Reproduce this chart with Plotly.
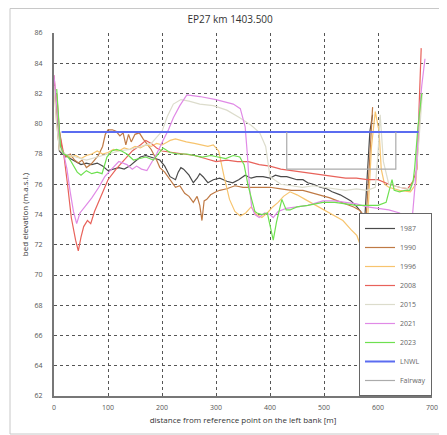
import plotly.graph_objects as go

# cross section EP27 km 1403.500, bed elevation per survey year
x_1987 = [0, 3, 6, 10, 15, 22, 30, 40, 50, 60, 70, 80, 90, 100, 110, 120, 130, 140, 150, 160,
          170, 180, 190, 196, 205, 215, 225, 230, 235, 240, 250, 258, 265, 270, 276, 285, 295, 307,
          320, 331, 342, 354, 365, 375, 387, 400, 410, 420, 431, 440, 450, 461, 470, 480, 493, 505,
          515, 530, 540, 550, 561, 568, 572, 576, 580, 585, 590]
y_1987 = [82.8, 81.5, 79.8, 78.2, 78.0, 77.9, 77.7, 77.5, 77.3, 77.4, 77.3, 77.4, 77.2, 76.9, 77.0,
          77.1, 77.0, 77.2, 77.5, 77.8, 77.9, 77.8, 77.7, 77.6, 77.2, 76.5, 76.3, 76.8, 77.1, 77.0,
          76.6, 76.1, 76.4, 76.7, 76.5, 76.1, 76.3, 76.4, 76.2, 76.1, 76.3, 76.6, 76.4, 76.5, 76.5,
          76.4, 76.6, 76.5, 76.5, 76.4, 76.3, 76.3, 76.1, 76.0, 75.8, 75.7, 75.5, 75.3, 75.1, 74.9,
          74.5, 74.2, 73.6, 74.0, 76.5, 79.5, 80.6]

x_1990 = [5, 10, 15, 22, 30, 38, 45, 52, 60, 68, 75, 82, 90, 95, 100, 108, 115, 122, 128, 133, 138,
          143, 150, 158, 165, 172, 180, 190, 196, 205, 215, 225, 233, 242, 250, 258, 265, 270, 274,
          278, 283, 290, 300, 307, 320, 335, 350, 365, 380, 400, 420, 440, 461, 480, 500, 511, 525,
          540, 555, 565, 572, 578, 582, 586, 590]
y_1990 = [82.0, 79.5, 78.3, 77.8, 78.0, 77.6, 77.4, 77.6, 77.1, 77.3, 77.6, 77.9, 78.5, 79.3, 79.6,
          79.6, 79.5, 79.2, 79.4, 78.6, 79.3, 78.8, 79.3, 79.4, 79.0, 78.7, 78.3, 77.6, 77.1, 76.8,
          76.3, 75.8, 75.9, 75.4, 75.2, 74.8, 75.2, 74.6, 73.6, 74.9, 75.0, 75.3, 75.5, 75.6, 75.7,
          75.9, 75.8, 75.8, 75.8, 75.8, 75.7, 75.6, 75.6, 75.4, 75.2, 75.1, 74.9, 74.7, 74.5, 74.3,
          74.0, 73.8, 76.0, 79.0, 81.1]

x_1996 = [0, 5, 10, 20, 30, 40, 50, 60, 70, 80, 90, 100, 110, 120, 130, 140, 150, 160, 170, 180,
          190, 200, 210, 215, 225, 233, 245, 260, 270, 285, 295, 305, 315, 325, 335, 345, 355, 365,
          375, 385, 395, 405, 415, 425, 437, 450, 465, 480, 500, 515, 535, 550, 561, 567, 573, 578,
          582, 588, 595, 602, 606, 612, 620, 640, 660, 670, 675, 680]
y_1996 = [82.5, 80.0, 78.3, 78.0, 77.8, 77.9, 77.7, 77.9, 78.0, 78.2, 78.0, 78.1, 78.3, 78.2, 78.4,
          78.3, 78.5, 78.4, 78.6, 78.5, 78.7, 78.6, 78.8, 78.9, 79.0, 78.9, 78.8, 78.7, 78.6, 78.5,
          78.6, 78.2, 76.5, 75.0, 74.2, 73.9, 74.1, 74.5, 74.0, 73.8, 74.1, 74.5, 74.8, 75.2, 75.5,
          75.3, 75.0, 74.7, 74.3, 74.0, 73.6, 73.0, 72.6, 72.0, 71.1, 71.8, 74.5, 78.5, 80.8, 79.5,
          77.0, 76.0, 75.8, 75.6, 75.5, 76.0, 79.0, 82.0]

x_2008 = [0, 5, 10, 18, 25, 32, 40, 45, 50, 55, 62, 68, 75, 85, 100, 115, 130, 145, 160, 170, 180,
          190, 200, 220, 240, 260, 280, 300, 320, 340, 360, 380, 400, 420, 440, 460, 480, 500, 520,
          540, 560, 580, 600, 620, 640, 655, 665, 672, 676, 680]
y_2008 = [83.2, 81.0, 79.5, 78.0, 76.0, 73.8, 72.3, 71.6, 72.5, 73.2, 73.6, 73.4, 74.2, 75.0, 76.3,
          77.0, 77.6, 78.2, 78.6, 78.9, 78.7, 78.4, 78.2, 78.1, 78.0, 77.9, 77.7, 77.5, 77.6, 77.5,
          77.5, 77.3, 77.2, 77.0, 76.9, 76.8, 76.7, 76.6, 76.5, 76.4, 76.4, 76.3, 76.3, 76.0, 75.8,
          75.7, 76.2, 77.0, 81.0, 85.0]

x_2015 = [0, 5, 10, 20, 40, 60, 80, 100, 120, 140, 160, 180, 200, 210, 221, 235, 250, 270, 295, 320,
          344, 365, 381, 392, 400, 420, 440, 460, 480, 500, 520, 540, 560, 580, 595, 600, 604, 610,
          620, 640, 660, 670, 676, 682]
y_2015 = [82.5, 80.0, 78.3, 78.0, 77.8, 77.6, 77.8, 78.0, 78.2, 78.3, 78.5, 78.7, 79.5, 80.5, 81.3,
          81.6, 81.5, 81.3, 81.2, 80.9, 80.4, 79.9, 79.4, 78.5, 76.5, 76.0, 75.9, 75.8, 75.9, 75.8,
          75.7, 75.6, 75.7, 75.6, 75.8, 78.0, 80.6, 77.5, 76.0, 75.8, 75.7, 76.5, 79.0, 82.0]

x_2021 = [0, 3, 7, 12, 18, 24, 30, 36, 42, 48, 57, 70, 83, 94, 104, 120, 135, 145, 153, 162, 172,
          182, 190, 202, 212, 221, 233, 246, 270, 300, 332, 345, 354, 358, 362, 366, 372, 380, 390,
          400, 406, 415, 430, 450, 470, 498, 520, 540, 560, 580, 600, 620, 640, 652, 659, 664, 670,
          676, 681, 687]
y_2021 = [83.2, 82.0, 80.0, 78.5, 78.0, 77.0, 75.5, 74.2, 73.4, 74.1, 74.5, 75.1, 75.8, 76.5, 76.9,
          77.5, 77.3, 77.0, 77.2, 77.0, 76.9, 77.5, 78.0, 78.9, 79.6, 80.4, 81.2, 81.9, 81.8, 81.6,
          81.3, 81.0, 79.8, 78.0, 75.8, 74.5, 74.0, 73.8, 74.1, 74.0, 73.8, 74.2, 74.4, 74.5, 74.6,
          74.9, 74.9, 74.8, 74.7, 74.5, 74.4, 74.3, 74.1, 73.8, 73.4, 74.0, 76.5, 80.5, 82.5, 84.3]

x_2023 = [5, 8, 12, 18, 24, 30, 36, 43, 50, 60, 70, 80, 89, 98, 107, 116, 125, 135, 147, 159, 170,
          184, 193, 202, 215, 230, 246, 260, 275, 290, 302, 318, 332, 344, 352, 359, 366, 372, 376,
          385, 395, 400, 406, 412, 422, 430, 437, 450, 470, 498, 520, 540, 560, 580, 600, 615, 622,
          626, 630, 640, 650, 659, 665, 668, 674, 681]
y_2023 = [82.3, 80.5, 78.5, 78.0, 77.9, 77.6, 77.2, 76.8, 76.6, 76.9, 76.7, 76.8, 76.7, 77.8, 78.2,
          78.3, 78.2, 78.0, 77.6, 77.7, 77.8, 77.6, 78.0, 78.4, 78.1, 78.0, 78.0, 77.9, 77.8, 77.9,
          77.8, 77.7, 77.9, 77.8, 77.3, 76.0, 75.0, 74.2, 74.1, 74.0, 74.1, 73.2, 72.3, 73.5, 75.0,
          74.3, 74.3, 74.5, 74.6, 74.8, 74.8, 74.7, 74.6, 74.6, 74.6, 74.8, 75.8, 76.3, 75.6, 75.5,
          75.6, 75.6, 76.2, 77.1, 79.8, 82.0]

x_lnwl = [14, 675]
y_lnwl = [79.45, 79.45]

x_fairway = [431, 431, 633, 633]
y_fairway = [79.45, 77.0, 77.0, 79.45]

series = [
    ("1987", x_1987, y_1987, "#4a4a4a", 1.2),
    ("1990", x_1990, y_1990, "#bf7a45", 1.2),
    ("1996", x_1996, y_1996, "#f7c46e", 1.2),
    ("2008", x_2008, y_2008, "#e8625a", 1.2),
    ("2015", x_2015, y_2015, "#dcdccc", 1.2),
    ("2021", x_2021, y_2021, "#e08ae6", 1.2),
    ("2023", x_2023, y_2023, "#6ee050", 1.2),
    ("LNWL", x_lnwl, y_lnwl, "#5b6cf0", 2),
    ("Fairway", x_fairway, y_fairway, "#ababab", 1.2),
]

fig = go.Figure()
for name, xs, ys, color, w in series:
    fig.add_trace(go.Scatter(x=xs, y=ys, mode="lines", name=name,
                             line=dict(color=color, width=w)))

font = "Open Sans, Liberation Sans, sans-serif"
# page body adds 8px margin, so the figure is sized 8px smaller each way
fig.update_layout(
    width=439, height=427,
    margin=dict(l=46, r=15, t=25, b=39),
    paper_bgcolor="white", plot_bgcolor="white",
    font=dict(family=font, size=8, color="#444"),
    title=dict(text="EP27 km 1403.500", x=0.506, xanchor="center", y=0.972, yanchor="middle",
               font=dict(size=10, color="#333")),
    showlegend=True,
    legend=dict(x=1, y=0, xanchor="right", yanchor="bottom", bgcolor="white",
                bordercolor="#666", borderwidth=1, font=dict(size=7, color="#666"),
                itemwidth=30, tracegroupgap=0),
    shapes=[dict(type="rect", xref="paper", yref="paper",
                 x0=-0.1164, x1=1.037, y0=-0.1047, y1=1.0675,
                 line=dict(color="#c8c8c8", width=1), layer="below")],
)
fig.update_xaxes(range=[0, 700], dtick=100, showgrid=True, gridcolor="#555",
                 griddash="dot", gridwidth=1, showline=True, linecolor="#777", linewidth=2,
                 zeroline=False, ticks="", automargin=False, ticklabelstandoff=4,
                 tickfont=dict(size=7, color="#555"),
                 title=dict(text="distance from reference point on the left bank [m]",
                            font=dict(size=8, color="#333"), standoff=6))
fig.update_yaxes(range=[62, 86], dtick=2, showgrid=True, gridcolor="#555",
                 griddash="dot", gridwidth=1, showline=True, linecolor="#777", linewidth=2,
                 zeroline=False, ticks="", automargin=False, ticklabelstandoff=8,
                 tickfont=dict(size=7, color="#555"),
                 title=dict(text="bed elevation (m.a.s.l.)",
                            font=dict(size=8, color="#333"), standoff=5))

fig.write_html("out.html")
